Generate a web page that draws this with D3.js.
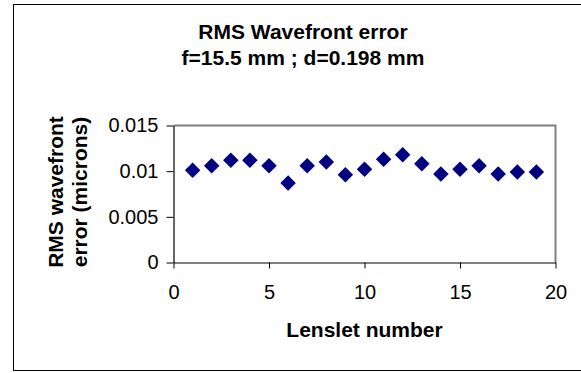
<!DOCTYPE html>
<html>
<head>
<meta charset="utf-8">
<script src="https://cdn.jsdelivr.net/npm/d3@7"></script>
<style>
  html, body { margin: 0; padding: 0; background: #fff; }
  svg { display: block; font-family: "Liberation Sans", Arial, sans-serif; }
</style>
</head>
<body>
<div id="chart"></div>
<script>
// lenslet index and the RMS error
const lenslets = [1, 2, 3, 4, 5, 6, 7, 8, 9, 10, 11, 12, 13, 14, 15, 16, 17, 18, 19]
const rmsError = [0.0101, 0.0106, 0.0112, 0.0112, 0.0106, 0.0087, 0.0106, 0.0110, 0.0096, 0.0102,
                  0.0113, 0.0118, 0.0108, 0.0097, 0.0102, 0.0106, 0.0097, 0.0099, 0.0099]
const xTicks = [0, 5, 10, 15, 20]
const yTicks = [0, 0.005, 0.01, 0.015]
const titleLines = ['RMS Wavefront error', 'f=15.5 mm ; d=0.198 mm']
const yTitleLines = ['RMS wavefront', 'error (microns)']
const xTitle = 'Lenslet number'

const width = 581, height = 373
const plot = { left: 173.5, top: 125.5, right: 555.5, bottom: 262.5 }

const svg = d3.select('#chart').append('svg')
    .attr('width', width)
    .attr('height', height)

// outer chart frame, right side runs off the picture
svg.append('rect')
    .attr('x', 13.5).attr('y', 4.5)
    .attr('width', 580).attr('height', 366)
    .attr('fill', '#fff')
    .attr('stroke', '#000')
    .attr('stroke-width', 1)

const x = d3.scaleLinear().domain([0, 20]).range([plot.left, plot.right])
const y = d3.scaleLinear().domain([0, 0.015]).range([plot.bottom, plot.top])

// plot area frame (grey top + right)
svg.append('path')
    .attr('d', `M${plot.left},${plot.top}H${plot.right}V${plot.bottom}`)
    .attr('fill', 'none')
    .attr('stroke', '#808080')
    .attr('stroke-width', 2)

const xAxis = svg.append('g')
    .attr('transform', `translate(0,${plot.bottom})`)
    .call(d3.axisBottom(x).tickValues(xTicks).tickSize(6).tickPadding(16).tickSizeOuter(0))
const yAxis = svg.append('g')
    .attr('transform', `translate(${plot.left},0)`)
    .call(d3.axisLeft(y).tickValues(yTicks).tickSize(7).tickPadding(8).tickSizeOuter(0)
        .tickFormat(d => d === 0 ? '0' : String(+d.toFixed(3))))

;[xAxis, yAxis].forEach(a => {
    a.select('.domain').attr('stroke', '#000').attr('stroke-width', 1.2)
    a.selectAll('.tick line').attr('stroke', '#000')
    a.selectAll('.tick text')
        .attr('fill', '#000')
        .style('font-size', '20px')
        .style('font-family', '"Liberation Sans", Arial, sans-serif')
})

// markers
svg.append('g').selectAll('path')
    .data(lenslets)
    .enter().append('path')
    .attr('d', d3.symbol().type(d3.symbolSquare).size(120))
    .attr('transform', (d, i) => `translate(${x(d)},${y(rmsError[i])}) rotate(45)`)
    .attr('fill', '#000080')

// title
svg.append('g').selectAll('text')
    .data(titleLines)
    .enter().append('text')
    .attr('x', 303)
    .attr('y', (d, i) => 39 + i * 26)
    .attr('text-anchor', 'middle')
    .style('font-size', '21px')
    .style('font-weight', 'bold')
    .text(d => d)

// x title
svg.append('text')
    .attr('x', (plot.left + plot.right) / 2)
    .attr('y', 337)
    .attr('text-anchor', 'middle')
    .style('font-size', '21px')
    .style('font-weight', 'bold')
    .text(xTitle)

// y title, two rotated lines
svg.append('g').selectAll('text')
    .data(yTitleLines)
    .enter().append('text')
    .attr('transform', (d, i) => `translate(${63 + i * 24},192) rotate(-90)`)
    .attr('text-anchor', 'middle')
    .style('font-size', '21px')
    .style('font-weight', 'bold')
    .text(d => d)
</script>
</body>
</html>
